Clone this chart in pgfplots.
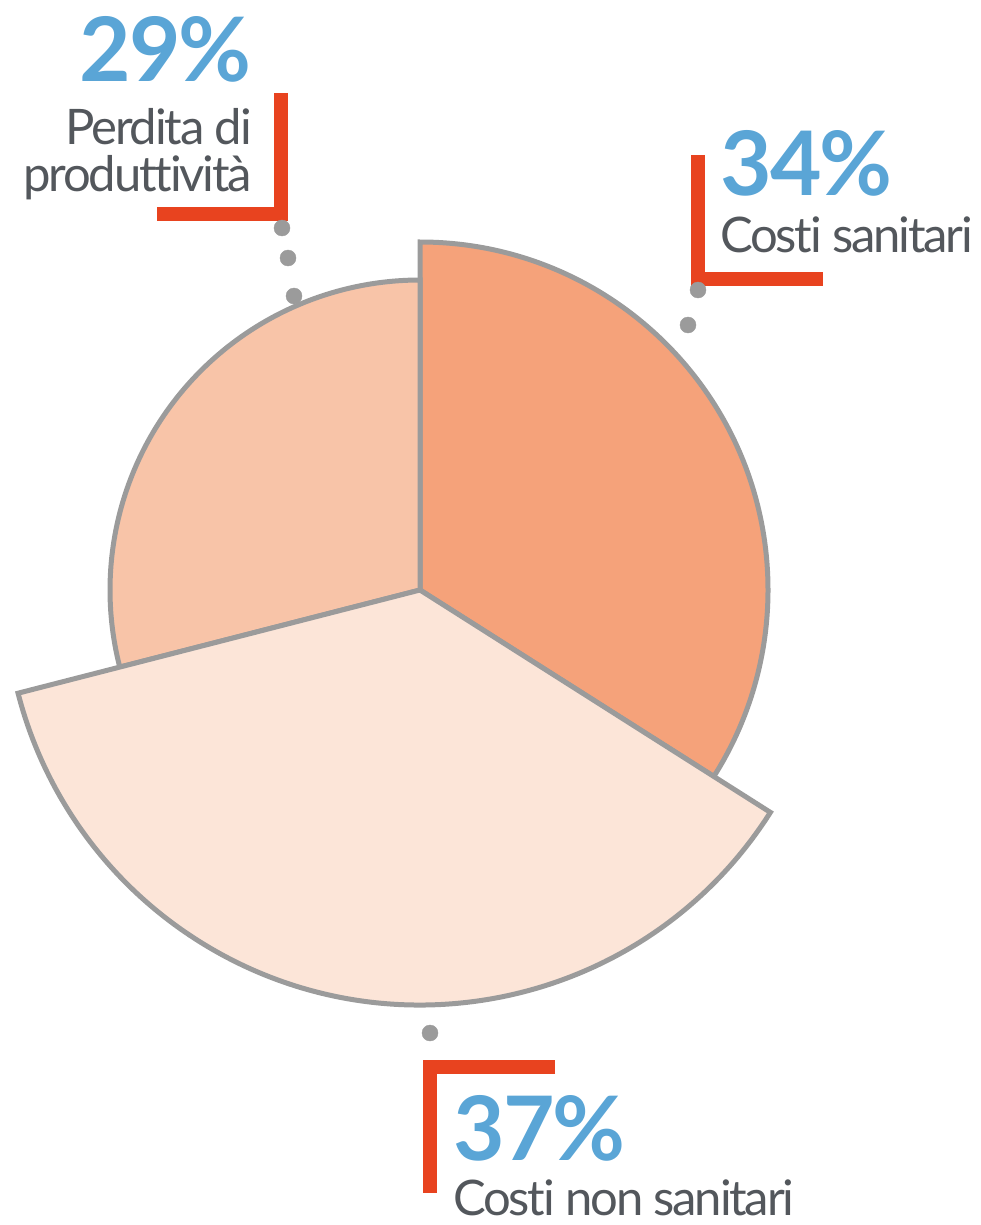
\documentclass[border=0pt]{standalone}
\usepackage{pgfplots}
\usepackage{pgfplotstable}
\pgfplotsset{compat=1.18}
\usepackage{fontspec}
\setmainfont{Lato}[Ligatures={NoCommon}]
\newfontfamily\pctfont{Lato}[LetterSpace=-2]
\newfontfamily\lblfont{Lato}[LetterSpace=-4.5,Ligatures={NoCommon}]

\definecolor{csan}{HTML}{F5A27A}
\definecolor{cnon}{HTML}{FCE5D8}
\definecolor{cper}{HTML}{F8C4A8}
\definecolor{edge}{HTML}{9B9B9B}
\definecolor{pctblue}{HTML}{5AA5D6}
\definecolor{txtgray}{HTML}{53575C}
\definecolor{bracket}{HTML}{E8431F}

% share, radius of the wedge (px)
\pgfplotstableread{
name pct radius
sanitari 34 348
nonsanitari 37 415
perdita 29 310
}\piedata

\newcommand\getrow[1]{%
  \pgfplotstablegetelem{#1}{pct}\of\piedata\let\curpct\pgfplotsretval
  \pgfplotstablegetelem{#1}{radius}\of\piedata\let\currad\pgfplotsretval}

\tikzset{
  pct/.style={inner sep=0, text=pctblue, font=\pctfont\fontsize{89}{89}\selectfont\bfseries},
  lbl/.style={inner sep=0, text=txtgray, font=\lblfont\fontsize{49}{49}\selectfont},
}

\begin{document}
\begin{tikzpicture}
\getrow{0}\pgfmathsetmacro\aA{90}\pgfmathsetmacro\bA{90-3.6*\curpct}\let\rA\currad
\getrow{1}\pgfmathsetmacro\bB{\bA-3.6*\curpct}\let\rB\currad
\getrow{2}\pgfmathsetmacro\bC{\bB-3.6*\curpct}\let\rC\currad
\begin{axis}[
  hide axis, scale only axis,
  width=980pt, height=1225pt,
  xmin=0, xmax=980, ymin=0, ymax=1225, y dir=reverse,
  clip=false,
]
\coordinate (bbA) at (axis cs:0,0);
\coordinate (bbB) at (axis cs:980,1225);

\filldraw[fill=csan, draw=edge, line width=5pt, line join=miter]
  (axis cs:420,590) -- ++(\aA:\rA pt) arc[start angle=\aA, end angle=\bA, radius=\rA pt] -- cycle;
\filldraw[fill=cper, draw=edge, line width=5pt, line join=miter]
  (axis cs:420,590) -- ++(\bB:\rC pt) arc[start angle=\bB, end angle=\bC, radius=\rC pt] -- cycle;
\filldraw[fill=cnon, draw=edge, line width=5pt, line join=miter]
  (axis cs:420,590) -- ++(\bA:\rB pt) arc[start angle=\bA, end angle=\bB, radius=\rB pt] -- cycle;

% leader dots
\addplot[only marks, mark=*, mark size=8pt, color=edge] coordinates {
  (282,228) (288,258) (294,296)
  (698,290) (688,325)
  (430,1033)
};

% brackets
\addplot[bracket, line width=14pt, line join=miter] coordinates {(281,93) (281,214) (157,214)};
\addplot[bracket, line width=14pt, line join=miter] coordinates {(698,155) (698,279) (823,279)};
\addplot[bracket, line width=14pt, line join=miter] coordinates {(555,1067) (430,1067) (430,1193)};

% labels
\node[pct, anchor=base east] at (axis cs:252,82) {29\%};
\node[lbl, anchor=base east] at (axis cs:252,145) {Perdita di};
\node[lbl, anchor=base east] at (axis cs:252,192) {produttività};

\node[pct, anchor=base west] at (axis cs:720,195) {34\%};
\node[lbl, anchor=base west] at (axis cs:720,252) {Costi sanitari};

\node[pct, anchor=base west] at (axis cs:453,1160) {37\%};
\node[lbl, anchor=base west] at (axis cs:453,1215) {Costi non sanitari};
\end{axis}
\pgfresetboundingbox
\path (bbA) rectangle (bbB);
\end{tikzpicture}
\end{document}
